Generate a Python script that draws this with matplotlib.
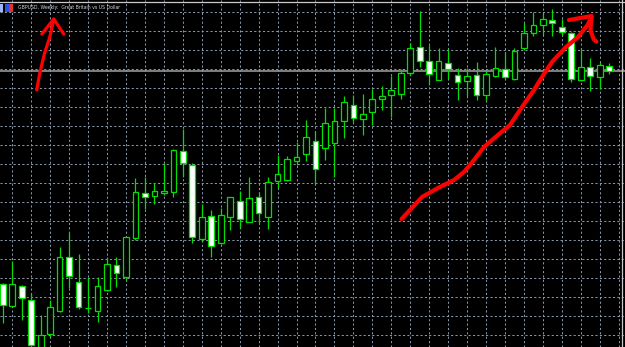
import matplotlib
matplotlib.use("Agg")
import matplotlib.pyplot as plt
from matplotlib.transforms import Affine2D
from matplotlib.patches import Rectangle
import numpy as np

# weekly GBPUSD candles
opens = [1.23135, 1.22065, 1.2305, 1.2235, 1.199, 1.20635, 1.21775, 1.24515, 1.23225, 1.21935,
         1.21785, 1.22865, 1.24085, 1.23525, 1.25465, 1.27685, 1.27565, 1.27715, 1.27725, 1.29785,
         1.291, 1.25385, 1.26535, 1.25215, 1.26485, 1.273, 1.26235, 1.27485, 1.26485, 1.28285,
         1.2835, 1.29315, 1.2965, 1.303, 1.29935, 1.30215, 1.31315, 1.321, 1.31385, 1.31735,
         1.324, 1.32615, 1.32665, 1.33715, 1.35, 1.34285, 1.33365, 1.342, 1.33615, 1.33285,
         1.336, 1.32615, 1.33535, 1.33885, 1.334, 1.34935, 1.35685, 1.36085, 1.36335, 1.36015,
         1.35685, 1.3335, 1.34, 1.33485, 1.3405]
highs = [1.23185, 1.24315, 1.231, 1.22685, 1.216, 1.2235, 1.24985, 1.25685, 1.24635, 1.235,
         1.23475, 1.24485, 1.24485, 1.255, 1.28435, 1.285, 1.28215, 1.29185, 1.29875, 1.30885,
         1.292, 1.2715, 1.2685, 1.26965, 1.275, 1.278, 1.28485, 1.2775, 1.285, 1.296,
         1.2955, 1.30265, 1.3135, 1.30825, 1.3195, 1.3195, 1.32525, 1.326, 1.3265, 1.329,
         1.3305, 1.3355, 1.33875, 1.35225, 1.368, 1.351, 1.34935, 1.349, 1.33935, 1.3395,
         1.34265, 1.33815, 1.35, 1.34765, 1.34935, 1.362, 1.36735, 1.36685, 1.36885, 1.36385,
         1.35765, 1.34935, 1.34435, 1.34265, 1.34215]
lows = [1.21185, 1.2205, 1.2135, 1.199, 1.1975, 1.20515, 1.2175, 1.22965, 1.21925, 1.217,
        1.21225, 1.228, 1.23015, 1.2335, 1.2535, 1.26885, 1.27135, 1.276, 1.27485, 1.28475,
        1.25215, 1.25325, 1.24515, 1.25175, 1.2585, 1.25975, 1.26225, 1.26185, 1.25915, 1.27935,
        1.28315, 1.291, 1.29315, 1.2815, 1.2935, 1.285, 1.30435, 1.31265, 1.306, 1.311,
        1.3185, 1.31485, 1.324, 1.336, 1.34015, 1.331, 1.3335, 1.334, 1.32325, 1.3255,
        1.32325, 1.32325, 1.335, 1.33425, 1.3335, 1.3485, 1.35525, 1.356, 1.3555, 1.356,
        1.33265, 1.33315, 1.32815, 1.32885, 1.3365]
closes = [1.22115, 1.2315, 1.22435, 1.20075, 1.20585, 1.21985, 1.24485, 1.23565, 1.22, 1.21935,
          1.23035, 1.24135, 1.23715, 1.25485, 1.27735, 1.275, 1.278, 1.278, 1.29835, 1.29225,
          1.25485, 1.26485, 1.25065, 1.26585, 1.27485, 1.26385, 1.27435, 1.26685, 1.28235, 1.2865,
          1.29385, 1.29515, 1.30485, 1.28885, 1.31185, 1.31315, 1.32235, 1.31465, 1.31635, 1.324,
          1.3255, 1.32835, 1.33685, 1.34965, 1.343, 1.3365, 1.34285, 1.33885, 1.33235, 1.3355,
          1.32625, 1.33635, 1.33935, 1.33485, 1.34785, 1.35685, 1.361, 1.36385, 1.36185, 1.35735,
          1.33385, 1.33985, 1.33535, 1.34085, 1.33815]

title = "GBPUSD, Weekly:  Great Britain vs US Dollar"

# hand drawn red marks, in screen pixels (x right, y down)
arrow1_shaft = [(36.7, 90), (39.8, 73), (44.6, 53), (49.8, 37), (53.8, 19)]
arrow1_head = [(41.8, 34), (53.8, 19), (63.7, 34)]
arrow2_curve = [(401.6, 219), (410, 210), (422, 197), (438, 188), (454, 180), (464, 172),
                (474, 160), (484, 147), (498, 135), (510, 125), (522, 107), (534, 90),
                (542, 77), (552, 62), (566, 47), (578, 37), (587.6, 25), (591.6, 16.7)]
arrow2_head = [(569, 20), (591.6, 16), (590.4, 30), (593.6, 39), (596.4, 41.7)]

lime = "#00e000"
n = len(opens)
x = np.arange(n)

fig = plt.figure(figsize=(6.25, 3.47), dpi=100, facecolor="black")
ax = fig.add_axes([0, 0, 1, 1], facecolor="black")
ax.set_xlim(-0.2955, 65.67)
ax.set_ylim(1.2, 1.3735)

# grid
ax.set_xticks(np.arange(1, 66, 2))
ax.set_yticks(np.arange(1.3673, 1.2, -0.0095))
ax.grid(True, color="#8896aa", linestyle=(0, (2, 2.2)), linewidth=0.75)
ax.tick_params(length=0, labelbottom=False, labelleft=False)
for s in ax.spines.values():
    s.set_visible(False)

# bid line
ax.axhline(closes[-1], color="#8a8a8a", linewidth=1.3, zorder=1.5)

o = np.array(opens)
c = np.array(closes)
up = c >= o
ax.vlines(x, lows, highs, color=lime, linewidth=0.9, zorder=2)
ax.bar(x, np.abs(c - o), bottom=np.minimum(o, c), width=0.6,
       color=np.where(up, "black", "white"), edgecolor=lime, linewidth=0.9, zorder=3)

# window frame
ax.axhline(1.2 + 345 / 2000, color="#c8c8c8", linewidth=0.9, zorder=4)
ax.axvline(65.38, color="#c8c8c8", linewidth=0.9, zorder=4)

# title + icons
fig.patches.append(Rectangle((0, 1 - 12 / 347), 3 / 625, 8 / 347, transform=fig.transFigure,
                             facecolor="#9fb4ff", edgecolor="none"))
fig.patches.append(Rectangle((4.5 / 625, 1 - 12 / 347), 4 / 625, 8 / 347, transform=fig.transFigure,
                             facecolor="#3050e0", edgecolor="none"))
fig.patches.append(Rectangle((8.5 / 625, 1 - 12 / 347), 4 / 625, 8 / 347, transform=fig.transFigure,
                             facecolor="#e03030", edgecolor="none"))
fig.text(18.5 / 625, 1 - 8 / 347, title, color="#d8d8d8", fontsize=3.3,
         va="center", ha="left", family="DejaVu Sans")

# red annotations
px = Affine2D().scale(1 / 625, -1 / 347).translate(0, 1) + fig.transFigure
for pts, lw in [(arrow1_shaft, 2.3), (arrow1_head, 2.3), (arrow2_curve, 3.0), (arrow2_head, 3.0)]:
    xs, ys = zip(*pts)
    ax.plot(xs, ys, color="#ff0000", linewidth=lw, transform=px, solid_capstyle="round",
            solid_joinstyle="round", zorder=6, clip_on=False)

fig.savefig("out.png", dpi=100, facecolor="black")
